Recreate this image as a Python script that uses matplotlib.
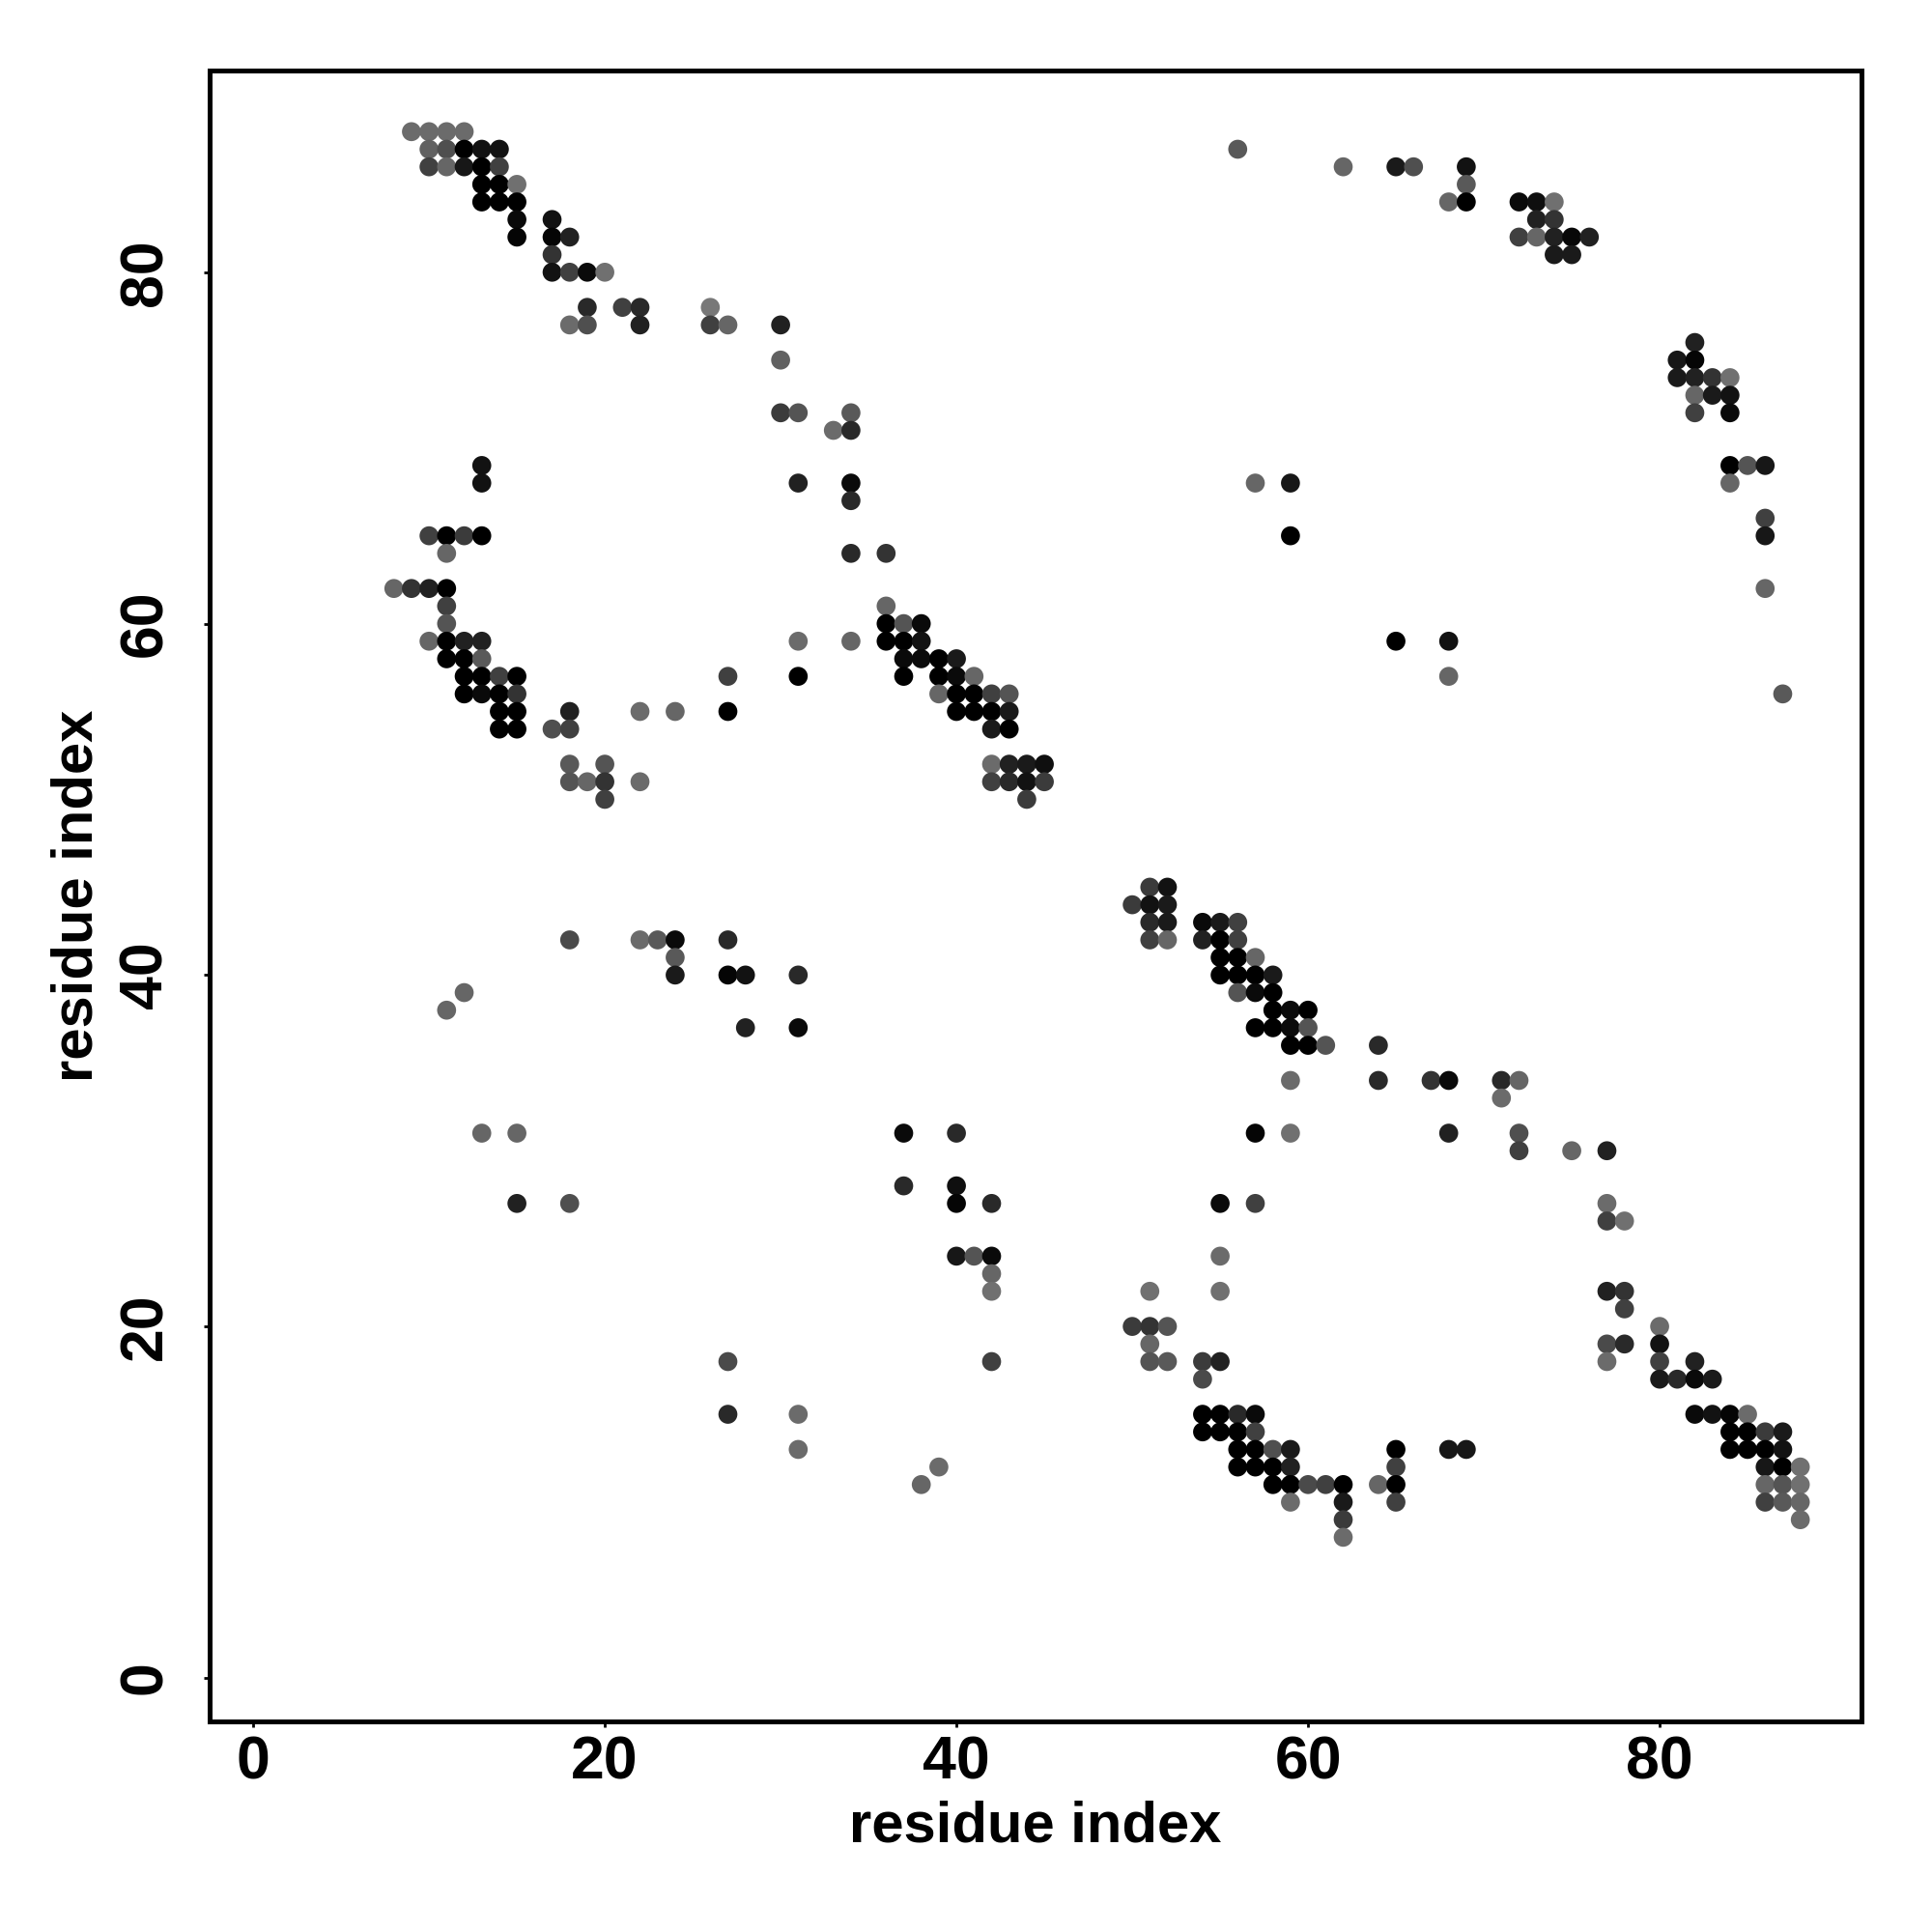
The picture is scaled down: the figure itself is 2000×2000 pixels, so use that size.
import matplotlib
matplotlib.use("Agg")
import matplotlib.pyplot as plt

# contact map: residue i, residue j, grey level of the dot (0 = black)
res_i = [
    9, 10, 11, 12, 10, 11, 12, 13, 14, 10, 11, 12, 13, 14, 13, 14, 15, 13, 14, 15,
    15, 17, 15, 17, 18, 17, 17, 18, 19, 20, 19, 21, 22, 26, 18, 19, 22, 26, 27, 30,
    30, 30, 31, 33, 13, 13, 31, 10, 11, 12, 13, 11, 8, 9, 10, 11,
    56, 34, 34, 34, 34, 34, 36, 57, 59, 59,
    62, 65, 66, 69, 69, 68, 69, 72, 73, 74, 73, 74, 72, 73, 74, 75, 76, 74, 75,
    82, 81, 82, 81, 82, 83, 84, 82, 83, 84, 82, 84, 84, 85, 86, 84, 86, 86, 86,
    11, 11, 10, 11, 12, 13, 31, 11, 12, 13, 12, 13, 14, 15, 27, 31, 12, 13, 14, 15,
    14, 15, 18, 22, 24, 27, 14, 15, 17, 18, 18, 20, 18, 19, 20, 22, 20,
    18, 22, 23, 24, 27, 24, 24, 27, 28, 31, 12, 11, 28, 31,
    36, 36, 37, 38, 34, 36, 37, 38, 37, 38, 39, 40, 37, 39, 40, 41,
    39, 40, 41, 42, 43, 40, 41, 42, 43, 42, 43, 42, 43, 44, 45, 42, 43, 44, 45, 44,
    51, 52, 50, 51, 52, 51, 52, 54, 55, 56, 51, 52, 54, 55, 56, 55, 56, 57,
    55, 56, 57, 58, 56, 57, 58, 58, 59, 60, 57, 58, 59, 60, 59, 60,
    65, 68, 68, 87, 61, 64,
    13, 15, 15, 18, 27, 27, 31, 31,
    59, 37, 40, 57, 59, 37, 40, 40, 42, 55, 57, 40, 41, 42, 55, 42, 42, 51, 55,
    50, 51, 52, 51, 42, 51, 52, 54, 55, 54, 54, 55, 56, 57, 54, 55, 56, 57,
    56, 57, 58, 59, 56, 57, 58, 59, 39, 58, 59, 60, 38, 59,
    64, 67, 68, 71, 72, 71, 68, 72, 72, 75, 77, 77, 77, 78, 77, 78, 78, 80,
    77, 78, 80, 77, 80, 82, 80, 81, 82, 83, 82, 83, 84, 85, 84, 85, 86, 87,
    84, 85, 86, 87, 65, 68, 69, 86, 87, 88, 65,
    61, 62, 64, 65, 86, 87, 88, 62, 65, 86, 87, 88, 62, 88, 62,
]
res_j = [
    88, 88, 88, 88, 87, 87, 87, 87, 87, 86, 86, 86, 86, 86, 85, 85, 85, 84, 84, 84,
    83, 83, 82, 82, 82, 81, 80, 80, 80, 80, 78, 78, 78, 78, 77, 77, 77, 77, 77, 77,
    75, 72, 72, 71, 69, 68, 68, 65, 65, 65, 65, 64, 62, 62, 62, 62,
    87, 72, 71, 68, 67, 64, 64, 68, 68, 65,
    86, 86, 86, 86, 85, 84, 84, 84, 84, 84, 83, 83, 82, 82, 82, 82, 82, 81, 81,
    76, 75, 75, 74, 74, 74, 74, 73, 73, 73, 72, 72, 69, 69, 69, 68, 66, 65, 62,
    61, 60, 59, 59, 59, 59, 59, 58, 58, 58, 57, 57, 57, 57, 57, 57, 56, 56, 56, 56,
    55, 55, 55, 55, 55, 55, 54, 54, 54, 54, 52, 52, 51, 51, 51, 51, 50,
    42, 42, 42, 42, 42, 41, 40, 40, 40, 40, 39, 38, 37, 37,
    61, 60, 60, 60, 59, 59, 59, 59, 58, 58, 58, 58, 57, 57, 57, 57,
    56, 56, 56, 56, 56, 55, 55, 55, 55, 54, 54, 52, 52, 52, 52, 51, 51, 51, 51, 50,
    45, 45, 44, 44, 44, 43, 43, 43, 43, 43, 42, 42, 42, 42, 42, 41, 41, 41,
    40, 40, 40, 40, 39, 39, 39, 38, 38, 38, 37, 37, 37, 37, 36, 36,
    59, 59, 57, 56, 36, 36,
    31, 31, 27, 27, 18, 15, 15, 13,
    34, 31, 31, 31, 31, 28, 28, 27, 27, 27, 27, 24, 24, 24, 24, 23, 22, 22, 22,
    20, 20, 20, 19, 18, 18, 18, 18, 18, 17, 15, 15, 15, 15, 14, 14, 14, 14,
    13, 13, 13, 13, 12, 12, 12, 12, 12, 11, 11, 11, 11, 10,
    34, 34, 34, 34, 34, 33, 31, 31, 30, 30, 30, 27, 26, 26, 22, 22, 21, 20,
    19, 19, 19, 18, 18, 18, 17, 17, 17, 17, 15, 15, 15, 15, 14, 14, 14, 14,
    13, 13, 13, 13, 13, 13, 13, 12, 12, 12, 12,
    11, 11, 11, 11, 11, 11, 11, 10, 10, 10, 10, 10, 9, 9, 8,
]
shade = [
    .42, .42, .42, .42, .38, .31, 0, .07, .07, .25, .4, .09, 0, .25, 0, 0, .44, 0, 0, 0,
    .04, .07, .02, .02, .13, .2, .07, .25, .04, .44, .16, .25, .16, .47, .42, .31, .13, .25, .4, .13,
    .38, .23, .33, .42, .07, .07, .13, .25, 0, .23, 0, .4, .4, .2, .13, 0,
    .35, .35, .16, .04, .16, .16, .2, .4, .09, 0,
    .4, .1, .31, .07, .35, .4, 0, .04, .06, .44, .13, .2, .25, .4, .13, .03, .13, .1, .1,
    .13, .09, .02, .1, .13, .2, .44, .4, .1, .07, .25, .04, 0, .33, .09, .4, .25, .09, .4,
    .25, .33, .4, 0, .13, .13, .42, 0, 0, .35, 0, 0, .25, 0, .25, 0, 0, .04, 0, .2,
    0, 0, .13, .42, .4, 0, 0, 0, .31, .25, .35, .33, .33, .4, .2, .42, .25,
    .29, .42, .35, .04, .16, .35, .1, .02, .07, .16, .4, .4, .13, .04,
    .4, 0, .33, .04, .4, 0, 0, .07, .04, .04, 0, .1, 0, 0, .04, .4,
    .4, 0, 0, .25, .33, 0, 0, 0, .1, .1, 0, .42, .13, .1, .06, .25, .16, .07, .23, .23,
    .23, .07, .23, .07, .1, .16, .1, .04, .1, .25, .25, .4, .13, 0, .25, 0, 0, .4,
    0, 0, 0, .1, .33, .04, 0, 0, .04, 0, 0, 0, .04, .33, 0, 0,
    0, .07, .4, .35, .33, .16,
    .4, .4, .13, .31, .29, .16, .42, .42,
    .42, .04, .16, .02, .44, .16, .06, .02, .16, .04, .25, .09, .33, .04, .42, .4, .44, .44, .44,
    .23, .2, .33, .4, .25, .33, .35, .23, .13, .29, 0, 0, .16, .04, 0, 0, 0, .25,
    0, 0, .31, .1, 0, 0, 0, .13, .42, 0, 0, .29, .4, .42,
    .16, .2, .04, .16, .4, .42, .13, .31, .25, .4, .13, .42, .25, .44, .13, .2, .25, .42,
    .29, .16, .07, .42, .25, .13, .1, .16, .04, .1, .04, .07, .02, .42, 0, 0, .23, .1,
    0, 0, 0, .07, 0, .09, .09, .09, 0, .44, .25,
    .25, 0, .4, 0, .4, .33, .44, .1, .25, .25, .35, .4, .23, .42, .42,
]

ticks = [0, 20, 40, 60, 80]
axis_label = "residue index"

plt.rcParams["font.family"] = ["Liberation Sans", "DejaVu Sans"]
plt.rcParams["font.weight"] = "bold"

fig = plt.figure(figsize=(10, 10), dpi=200)
ax = fig.add_axes([0.1085, 0.109, 0.855, 0.8545])

ax.scatter(res_i, res_j, c=[str(g) for g in shade], s=50, linewidths=0)

ax.set_xlim(-2.48, 91.48)
ax.set_ylim(-2.48, 91.48)
ax.set_xticks(ticks)
ax.set_yticks(ticks)
ax.set_xticklabels([str(t) for t in ticks], fontsize=22.5, fontweight="bold")
ax.set_yticklabels([str(t) for t in ticks], fontsize=22.5, fontweight="bold",
                   rotation=90, va="center")
ax.tick_params(axis="both", length=2.3, width=1.0, color="black")
ax.tick_params(axis="x", pad=2.7)
ax.tick_params(axis="y", pad=11)

for sp in ax.spines.values():
    sp.set_linewidth(1.8)

ax.set_xlabel(axis_label, fontsize=21.5, fontweight="bold", va="center")
ax.xaxis.set_label_coords(0.5, -0.0638)
ax.set_ylabel(axis_label, fontsize=21.5, fontweight="bold", va="center")
ax.yaxis.set_label_coords(-0.080, 0.5)

fig.savefig("out.png", dpi=200, facecolor="white")
